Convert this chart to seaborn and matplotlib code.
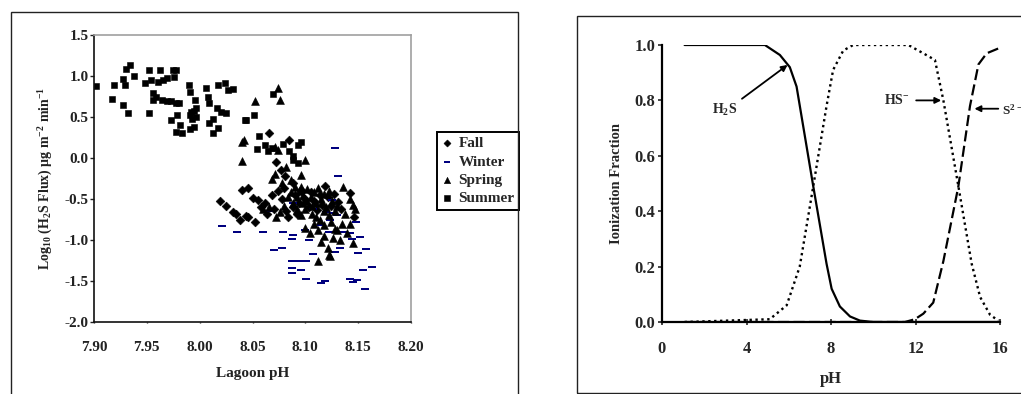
import matplotlib
matplotlib.use("Agg")
import matplotlib.pyplot as plt
from matplotlib.patches import Rectangle
import pandas as pd
import seaborn as sns

# ---- left panel: H2S flux vs lagoon pH ----
fall_ph = [8.019, 8.025, 8.032, 8.034, 8.040, 8.046, 8.038, 8.044, 8.052, 8.050, 8.055, 8.066,
           8.085, 8.058, 8.062, 8.064, 8.068, 8.070, 8.074, 8.078, 8.080, 8.082, 8.084, 8.088,
           8.090, 8.092, 8.094, 8.097, 8.100, 8.103, 8.105, 8.108, 8.111, 8.114, 8.116, 8.119,
           8.121, 8.124, 8.127, 8.131, 8.134, 8.142, 8.146, 8.077, 8.081, 8.088, 8.072, 8.046]
fall_flux = [-0.52, -0.59, -0.66, -0.68, -0.39, -0.37, -0.76, -0.71, -0.78, -0.49, -0.51, 0.30,
             0.22, -0.60, -0.55, -0.68, -0.45, -0.62, -0.40, -0.50, -0.36, -0.65, -0.72, -0.60,
             -0.45, -0.68, -0.55, -0.40, -0.50, -0.60, -0.42, -0.53, -0.63, -0.45, -0.57, -0.34,
             -0.48, -0.58, -0.44, -0.54, -0.62, -0.43, -0.72, -0.15, -0.22, -0.30, -0.05, -0.72]

winter_ph = [8.021, 8.035, 8.060, 8.079, 8.088, 8.087, 8.070, 8.078, 8.087, 8.093, 8.087, 8.087,
             8.096, 8.101, 8.101, 8.107, 8.115, 8.119, 8.128, 8.131, 8.125, 8.126, 8.123, 8.128,
             8.133, 8.144, 8.142, 8.145, 8.149, 8.148, 8.152, 8.150, 8.155, 8.157, 8.156, 8.163,
             8.066, 8.088, 8.100, 8.107, 8.120, 8.122, 8.130, 8.136, 8.142, 8.115, 8.103]
winter_flux = [-0.83, -0.90, -0.90, -0.90, -0.94, -0.99, -1.12, -1.10, -1.26, -1.26, -1.34, -1.40,
               -1.36, -1.26, -1.48, -1.17, -1.52, -1.50, 0.12, -0.22, -0.51, -0.67, -0.75, -1.15,
               -1.10, -0.99, -1.48, -1.51, -1.49, -0.78, -0.96, -1.16, -1.37, -1.11, -1.60, -1.33,
               -0.65, -0.55, -0.88, -0.62, -0.66, -0.90, -0.70, -0.90, -0.92, -0.82, -1.00]

spring_ph = [8.074, 8.076, 8.052, 8.040, 8.042, 8.040, 8.071, 8.074, 8.100, 8.071, 8.082, 8.096,
             8.086, 8.078, 8.068, 8.090, 8.094, 8.098, 8.102, 8.105, 8.108, 8.110, 8.112, 8.115,
             8.118, 8.120, 8.122, 8.125, 8.128, 8.130, 8.136, 8.142, 8.145, 8.147, 8.112, 8.123,
             8.122, 8.121, 8.133, 8.139, 8.145, 8.118, 8.112, 8.108, 8.104, 8.100, 8.115, 8.126,
             8.130, 8.135, 8.092, 8.088, 8.084, 8.080, 8.076, 8.072, 8.066, 8.060, 8.096, 8.100,
             8.106, 8.110, 8.114, 8.118, 8.124, 8.098, 8.092, 8.102, 8.106, 8.096, 8.086, 8.118,
             8.122, 8.138, 8.142, 8.128]
spring_flux = [0.85, 0.71, 0.69, 0.20, 0.22, -0.04, 0.14, 0.10, -0.02, -0.19, -0.11, -0.21,
               -0.27, -0.30, -0.25, -0.35, -0.40, -0.45, -0.38, -0.48, -0.42, -0.55, -0.36, -0.50,
               -0.44, -0.60, -0.40, -0.52, -0.65, -0.58, -0.35, -0.50, -0.57, -0.62, -1.26, -1.20,
               -1.18, -1.10, -1.00, -0.92, -1.04, -0.95, -0.88, -0.80, -0.92, -0.85, -1.02, -0.98,
               -0.88, -0.80, -0.62, -0.55, -0.48, -0.58, -0.66, -0.72, -0.60, -0.62, -0.70, -0.62,
               -0.68, -0.72, -0.75, -0.82, -0.78, -0.55, -0.48, -0.52, -0.58, -0.35, -0.42, -0.65,
               -0.70, -0.68, -0.80, -0.86]

summer_ph = [7.902, 7.917, 7.919, 7.927, 7.927, 7.929, 7.930, 7.934, 7.932, 7.938, 7.948, 7.952,
             7.952, 7.954, 7.956, 7.956, 7.959, 7.961, 7.962, 7.964, 7.965, 7.969, 7.969, 7.973,
             7.975, 7.976, 7.978, 7.973, 7.978, 7.979, 7.980, 7.978, 7.981, 7.983, 7.990, 7.991,
             7.991, 7.992, 7.993, 7.995, 7.996, 7.997, 7.997, 7.991, 7.995, 8.006, 8.008, 8.009,
             8.009, 8.013, 8.013, 8.017, 8.017, 8.016, 8.020, 8.024, 8.025, 8.027, 8.032, 8.043,
             8.044, 8.051, 8.056, 8.062, 8.054, 8.068, 8.069, 8.079, 8.085, 8.088, 8.088, 8.093,
             8.096, 8.093, 8.065]
summer_flux = [0.88, 0.72, 0.89, 0.65, 0.96, 0.89, 1.09, 1.13, 0.55, 1.00, 0.91, 1.07,
               0.55, 0.95, 0.79, 0.71, 0.75, 0.93, 1.07, 0.71, 0.95, 0.97, 0.69, 0.69,
               1.07, 0.99, 1.07, 0.46, 0.67, 0.52, 0.67, 0.32, 0.40, 0.30, 0.89, 0.81,
               0.52, 0.56, 0.48, 0.57, 0.71, 0.50, 0.61, 0.35, 0.38, 0.85, 0.75, 0.67,
               0.43, 0.48, 0.30, 0.36, 0.89, 0.61, 0.56, 0.91, 0.55, 0.83, 0.84, 0.46,
               0.46, 0.52, 0.27, 0.16, 0.11, 0.12, 0.78, 0.17, 0.08, 0.02, -0.02, -0.06,
               0.20, 0.16, 0.08]

x_ticks_left = [7.90, 7.95, 8.00, 8.05, 8.10, 8.15, 8.20]
y_ticks_left = [-2.0, -1.5, -1.0, -0.5, 0.0, 0.5, 1.0, 1.5]

# ---- right panel: sulfide speciation vs pH ----
ph_h2s = [1.07, 4.87, 5.58, 6.05, 6.37, 7.16, 7.79, 8.03, 8.42, 8.90, 9.37, 10.0, 16.0]
frac_h2s = [1.0, 1.0, 0.964, 0.92, 0.85, 0.49, 0.21, 0.12, 0.056, 0.02, 0.005, 0.0, 0.0]
ph_hs = [1.07, 5.10, 5.90, 6.52, 7.16, 7.79, 8.10, 8.58, 9.05, 11.66, 12.37, 12.92, 13.32,
         14.03, 14.66, 15.06, 15.53, 15.92]
frac_hs = [0.0, 0.01, 0.06, 0.20, 0.49, 0.78, 0.91, 0.98, 1.0, 1.0, 0.97, 0.946, 0.80,
           0.49, 0.21, 0.09, 0.026, 0.005]
ph_s2 = [1.07, 11.5, 11.97, 12.37, 12.84, 13.32, 14.03, 14.58, 14.98, 15.37, 16.0]
frac_s2 = [0.0, 0.0, 0.01, 0.03, 0.07, 0.22, 0.49, 0.78, 0.93, 0.97, 0.99]

sns.set_style("white")
plt.rcParams["font.family"] = ["Liberation Serif", "DejaVu Serif"]
plt.rcParams["font.weight"] = "bold"
plt.rcParams["mathtext.fontset"] = "custom"
plt.rcParams["mathtext.rm"] = "Liberation Serif:bold"
plt.rcParams["mathtext.default"] = "rm"

W, H = 1021, 394
fig = plt.figure(figsize=(W / 100, H / 100), dpi=100)

# outer frames of the two pasted figures
fig.add_artist(Rectangle((11 / W, -0.02), 507 / W, 1.02 - 12 / H, transform=fig.transFigure,
                         fill=False, ec="#222222", lw=1.0))
fig.add_artist(Rectangle((577 / W, 1 / H), 0.5, 1 - 17 / H, transform=fig.transFigure,
                         fill=False, ec="#222222", lw=1.0))

# ---------- left ----------
ax1 = fig.add_axes([94 / W, 1 - 322 / H, 317 / W, 287 / H])
winter_marker = [(-1, -0.3), (1, -0.3), (1, 0.3), (-1, 0.3), (-1, -0.3)]
sns.scatterplot(x=fall_ph, y=fall_flux, marker="D", s=20, color="black", edgecolor="black",
                linewidth=0.4, label="Fall", ax=ax1)
sns.scatterplot(x=winter_ph, y=winter_flux, marker=winter_marker, s=34, color="#00007f",
                edgecolor="#00007f", linewidth=0, label="Winter", ax=ax1)
sns.scatterplot(x=spring_ph, y=spring_flux, marker="^", s=32, color="black", edgecolor="black",
                linewidth=0.4, label="Spring", ax=ax1)
sns.scatterplot(x=summer_ph, y=summer_flux, marker="s", s=24, color="black", edgecolor="black",
                linewidth=0.4, label="Summer", ax=ax1)

ax1.set_xlim(7.90, 8.20)
ax1.set_ylim(-2.0, 1.5)
ax1.set_xticks(x_ticks_left)
ax1.set_xticklabels([f"{v:.2f}" for v in x_ticks_left])
ax1.set_yticks(y_ticks_left)
ax1.set_yticklabels([f"{v:.1f}" for v in y_ticks_left])
ax1.tick_params(axis="y", direction="out", length=3, width=1, pad=1, labelsize=11,
                colors="#222222", left=True)
ax1.tick_params(axis="x", direction="out", length=1, width=1, pad=13, labelsize=11,
                colors="#222222", bottom=True)
for side in ["top", "right"]:
    ax1.spines[side].set_color("#a0a0a0")
    ax1.spines[side].set_linewidth(1.2)
for side in ["left", "bottom"]:
    ax1.spines[side].set_color("#111111")
    ax1.spines[side].set_linewidth(1.2)
ax1.set_xlabel("Lagoon pH", fontsize=11, fontweight="bold", labelpad=9, color="#222222")
ax1.set_ylabel(r"Log$_{10}$ (H$_2$S Flux) µg m$^{-2}$ min$^{-1}$", fontsize=10,
               fontweight="bold", labelpad=7, color="#222222")

ax1.legend(loc="upper left", bbox_to_anchor=(437 / W, 1 - 132 / H), bbox_transform=fig.transFigure,
           frameon=True, fancybox=False, edgecolor="black", framealpha=1, fontsize=11,
           borderpad=0.3, labelspacing=0.3, handlelength=0.7, handletextpad=0.4,
           borderaxespad=0, markerscale=0.8)
ax1.get_legend().get_frame().set_linewidth(1.4)

# ---------- right ----------
ax2 = fig.add_axes([662 / W, 1 - 322 / H, 338 / W, 277 / H])
sns.lineplot(x=ph_h2s, y=frac_h2s, color="black", lw=1.6, linestyle="-", sort=False, ax=ax2)
sns.lineplot(x=ph_hs, y=frac_hs, color="black", lw=1.7, linestyle=(0, (1, 1.5)), sort=False, ax=ax2)
sns.lineplot(x=ph_s2, y=frac_s2, color="black", lw=1.6, linestyle=(0, (5, 2)), sort=False, ax=ax2)

ax2.set_xlim(0, 16)
ax2.set_ylim(0, 1.0)
ax2.set_xticks([0, 4, 8, 12, 16])
ax2.set_yticks([0.0, 0.2, 0.4, 0.6, 0.8, 1.0])
ax2.set_yticklabels([f"{v:.1f}" for v in [0.0, 0.2, 0.4, 0.6, 0.8, 1.0]])
ax2.tick_params(axis="y", direction="out", length=3, width=1.2, pad=2, labelsize=12, left=True)
ax2.tick_params(axis="x", direction="inout", length=5, width=1.2, pad=11, labelsize=12, bottom=True)
sns.despine(ax=ax2)
for side in ["left", "bottom"]:
    ax2.spines[side].set_linewidth(1.6)
    ax2.spines[side].set_color("black")
ax2.set_xlabel("pH", fontsize=12, fontweight="bold", labelpad=10)
ax2.set_ylabel("Ionization Fraction", fontsize=10.5, fontweight="bold", labelpad=8)

arrow = dict(arrowstyle="-|>", color="black", lw=1.3, mutation_scale=9)
ax2.annotate("", xy=(6.05, 0.934), xytext=(3.68, 0.80), arrowprops=arrow)
ax2.text(2.97, 0.766, r"H$_2$S", fontsize=10, ha="center", va="center")
ax2.annotate("", xy=(13.35, 0.80), xytext=(11.9, 0.80), arrowprops=arrow)
ax2.text(11.1, 0.80, r"HS$^{-}$", fontsize=10, ha="center", va="center")
ax2.annotate("", xy=(14.66, 0.77), xytext=(16.05, 0.77), arrowprops=arrow, annotation_clip=False)
ax2.text(16.1, 0.766, r"S$^{2-}$", fontsize=9.5, ha="left", va="center", clip_on=False)

fig.savefig("out.png", dpi=100)
